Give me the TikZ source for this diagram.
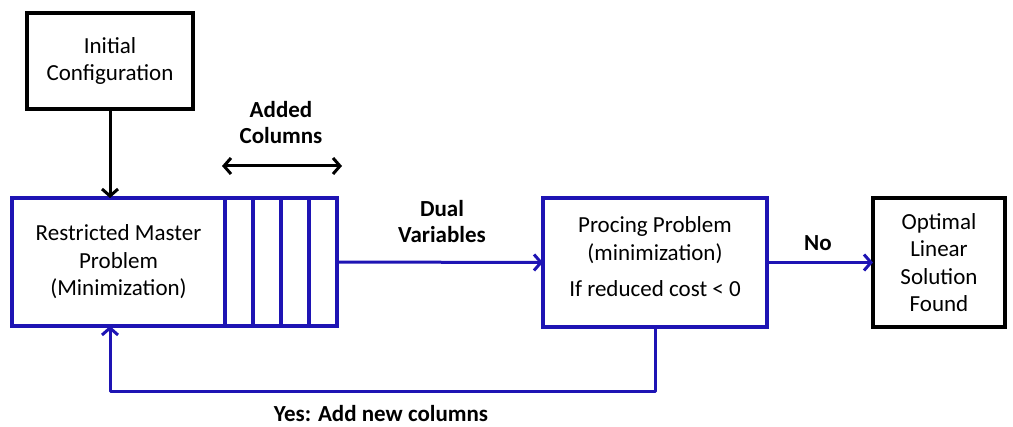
\documentclass[tikz,border=0pt]{standalone}
\usepackage{fontspec}
\setmainfont{Carlito}
\usetikzlibrary{arrows.meta}
\definecolor{flowblue}{RGB}{30,20,180}
\tikzset{
  every node/.style={outer sep=0pt},
  box/.style={draw, line width=3.4pt, align=center, inner sep=0pt, font=\fontsize{23}{27.5}\selectfont},
  bluebox/.style={box, draw=flowblue},
  blackbox/.style={box, draw=black},
  colbox/.style={draw=flowblue, line width=3.4pt, minimum width=28pt, minimum height=128pt, inner sep=0pt},
  lbl/.style={align=center, font=\fontsize{23}{26}\selectfont\bfseries},
  flow/.style={line width=3pt, -{Straight Barb[length=7pt,width=16pt,line width=3pt]}},
  bothways/.style={line width=3pt, {Straight Barb[length=7pt,width=16pt,line width=3pt]}-{Straight Barb[length=7pt,width=16pt,line width=3pt]}}
}
\begin{document}
\begin{tikzpicture}[x=1pt,y=-1pt]
\useasboundingbox (0,0) rectangle (1013,427);

% process boxes
\node[blackbox, minimum width=166pt, minimum height=96pt] (init) at (110,61) {Initial\\Configuration};
\node[bluebox, minimum width=213pt, minimum height=128pt] (rmp) at (118.5,262) {Restricted Master\\Problem\\(Minimization)};
\node[colbox, anchor=west] (c1) at (rmp.east) {};
\node[colbox, anchor=west] (c2) at (c1.east) {};
\node[colbox, anchor=west] (c3) at (c2.east) {};
\node[colbox, anchor=west] (c4) at (c3.east) {};
\node[bluebox, minimum width=224pt, minimum height=129pt] (pp) at (655,262.5) {};
\node[align=center, font=\fontsize{23}{27.5}\selectfont] (pptext) at (655,257) {Procing Problem\\(minimization)\\[9pt]If reduced cost < 0};
\node[blackbox, minimum width=132pt, minimum height=129pt] (opt) at (939,262.5) {Optimal\\Linear\\Solution\\Found};

% labels
\node[lbl] (addlbl) at (281,123) {Added\\Columns};
\node[lbl] (duallbl) at (442,222) {Dual\\Variables};
\node[lbl] (nolbl) at (818,243) {No};
\node[lbl] (yeslbl) at (381,414) {Yes: Add new columns};

% span of the added columns
\coordinate (colL) at (222,166);
\coordinate (colR) at (342,166);
\draw[bothways, black] (colL) -- (colR);

% connectors
\draw[flow, black] (init.south) -- (init.south |- rmp.north);
\draw[flow, flowblue] (c4.east) -- (pp.west);
\draw[flow, flowblue] (pp.east) -- (opt.west);
\coordinate (loopR) at (655,392);
\coordinate (loopL) at (110,392);
\draw[flow, flowblue, line join=round] (pp.south) -- (loopR) -- (loopL) -- (loopL |- rmp.south);
\end{tikzpicture}
\end{document}
